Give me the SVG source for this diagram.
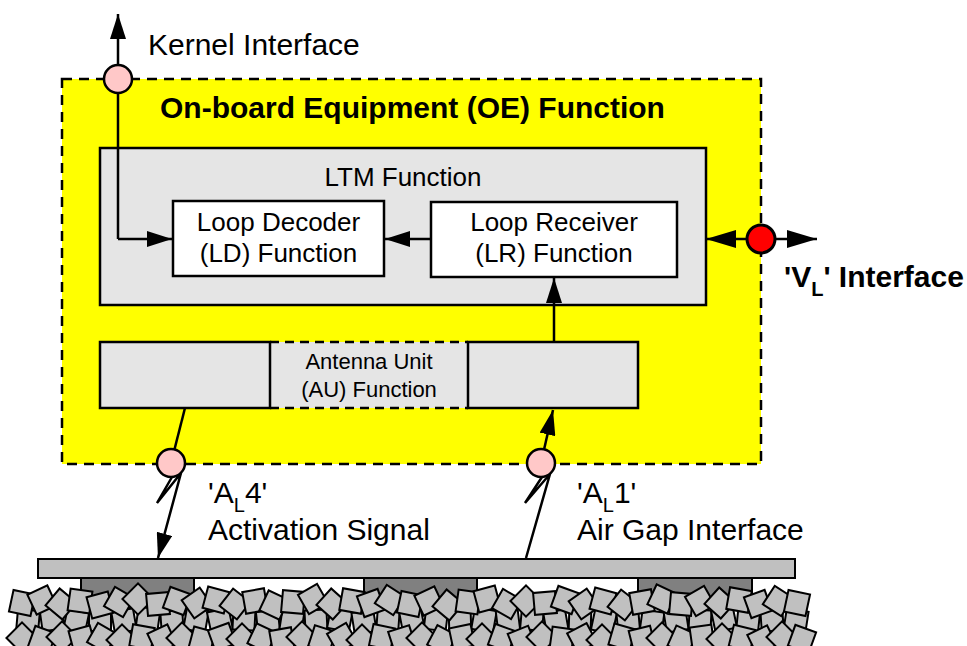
<svg xmlns="http://www.w3.org/2000/svg" xmlns:xlink="http://www.w3.org/1999/xlink" width="967" height="646" viewBox="0 0 967 646">
<style>
text{font-family:"Liberation Sans",Arial,sans-serif;fill:#000}
.lbl{font-size:30px}
.in{font-size:26px;text-anchor:middle}
.au{font-size:22px;text-anchor:middle}
.bold{font-weight:bold}
.box{stroke:#000;stroke-width:2.5}
.con{fill:none;stroke:#000;stroke-width:2.5}
.pink{fill:#ffc8c8;stroke:#000;stroke-width:2.5}
.st{fill:#c0c0c0;stroke:#000;stroke-width:2}
</style>
<defs>
<marker id="ah" markerWidth="25" markerHeight="16" refX="25" refY="8" orient="auto" markerUnits="userSpaceOnUse"><path d="M0,0 L25,8 L0,16 z" fill="#000"/></marker>
<marker id="ahL" markerWidth="30" markerHeight="18" refX="30" refY="9" orient="auto" markerUnits="userSpaceOnUse"><path d="M0,0 L30,9 L0,18 z" fill="#000"/></marker>
<rect id="s" x="-11" y="-11" width="22" height="22" class="st"/>
</defs>

<g id="oe">
<rect x="62" y="79" width="699" height="385" fill="#ffff00" stroke="#000" stroke-width="2.5" stroke-dasharray="10,7"/>
<text class="lbl bold" x="160" y="118">On-board Equipment (OE) Function</text>
</g>

<g id="ltm">
<rect class="box" x="100" y="148" width="606" height="157" fill="#e5e5e5"/>
<text class="in" x="403" y="186">LTM Function</text>
</g>

<g id="ld">
<rect class="box" x="173" y="201" width="211" height="75" fill="#fff"/>
<text class="in" x="278.5" y="231">Loop Decoder</text>
<text class="in" x="278.5" y="262">(LD) Function</text>
</g>

<g id="lr">
<rect class="box" x="431" y="202" width="246" height="75" fill="#fff"/>
<text class="in" x="554" y="231">Loop Receiver</text>
<text class="in" x="554" y="262">(LR) Function</text>
</g>

<g id="au">
<rect x="270" y="342" width="198" height="66" fill="#e5e5e5"/>
<path d="M270,342 H468 M270,408 H468" stroke="#000" stroke-width="2.5" stroke-dasharray="9,6" fill="none"/>
<rect class="box" x="100" y="342" width="170" height="66" fill="#e5e5e5"/>
<rect class="box" x="468" y="342" width="170" height="66" fill="#e5e5e5"/>
<text class="au" x="369" y="369">Antenna Unit</text>
<text class="au" x="369" y="397">(AU) Function</text>
</g>

<g id="track">
<rect x="81" y="578" width="113" height="30" fill="#808080" stroke="#000" stroke-width="2"/>
<rect x="364" y="578" width="113" height="30" fill="#808080" stroke="#000" stroke-width="2"/>
<rect x="638" y="578" width="114" height="30" fill="#808080" stroke="#000" stroke-width="2"/>
<rect x="38" y="559" width="757" height="19" fill="#c0c0c0" stroke="#000" stroke-width="2"/>
</g>

<g id="ballast">
<use xlink:href="#s" transform="translate(28,621) rotate(5)"/>
<use xlink:href="#s" transform="translate(52,619) rotate(-8)"/>
<use xlink:href="#s" transform="translate(76,622) rotate(12)"/>
<use xlink:href="#s" transform="translate(100,620) rotate(0)"/>
<use xlink:href="#s" transform="translate(124,621) rotate(-10)"/>
<use xlink:href="#s" transform="translate(148,619) rotate(8)"/>
<use xlink:href="#s" transform="translate(172,622) rotate(-4)"/>
<use xlink:href="#s" transform="translate(196,620) rotate(10)"/>
<use xlink:href="#s" transform="translate(220,621) rotate(-12)"/>
<use xlink:href="#s" transform="translate(244,619) rotate(3)"/>
<use xlink:href="#s" transform="translate(268,622) rotate(-6)"/>
<use xlink:href="#s" transform="translate(292,620) rotate(9)"/>
<use xlink:href="#s" transform="translate(316,621) rotate(-3)"/>
<use xlink:href="#s" transform="translate(340,619) rotate(11)"/>
<use xlink:href="#s" transform="translate(364,622) rotate(-9)"/>
<use xlink:href="#s" transform="translate(388,620) rotate(4)"/>
<use xlink:href="#s" transform="translate(412,621) rotate(-11)"/>
<use xlink:href="#s" transform="translate(436,619) rotate(7)"/>
<use xlink:href="#s" transform="translate(460,622) rotate(-2)"/>
<use xlink:href="#s" transform="translate(484,620) rotate(10)"/>
<use xlink:href="#s" transform="translate(508,621) rotate(-7)"/>
<use xlink:href="#s" transform="translate(532,619) rotate(5)"/>
<use xlink:href="#s" transform="translate(556,622) rotate(-10)"/>
<use xlink:href="#s" transform="translate(580,620) rotate(2)"/>
<use xlink:href="#s" transform="translate(604,621) rotate(12)"/>
<use xlink:href="#s" transform="translate(628,619) rotate(-5)"/>
<use xlink:href="#s" transform="translate(652,622) rotate(8)"/>
<use xlink:href="#s" transform="translate(676,620) rotate(-9)"/>
<use xlink:href="#s" transform="translate(700,621) rotate(3)"/>
<use xlink:href="#s" transform="translate(724,619) rotate(-12)"/>
<use xlink:href="#s" transform="translate(748,622) rotate(6)"/>
<use xlink:href="#s" transform="translate(772,620) rotate(-4)"/>
<use xlink:href="#s" transform="translate(796,621) rotate(9)"/>

<use xlink:href="#s" transform="translate(22,638) rotate(45)"/>
<use xlink:href="#s" transform="translate(42,640) rotate(20)"/>
<use xlink:href="#s" transform="translate(62,637) rotate(45)"/>
<use xlink:href="#s" transform="translate(82,639) rotate(-15)"/>
<use xlink:href="#s" transform="translate(102,638) rotate(30)"/>
<use xlink:href="#s" transform="translate(122,640) rotate(45)"/>
<use xlink:href="#s" transform="translate(142,637) rotate(10)"/>
<use xlink:href="#s" transform="translate(162,639) rotate(-25)"/>
<use xlink:href="#s" transform="translate(182,638) rotate(45)"/>
<use xlink:href="#s" transform="translate(202,640) rotate(15)"/>
<use xlink:href="#s" transform="translate(222,637) rotate(-20)"/>
<use xlink:href="#s" transform="translate(242,639) rotate(45)"/>
<use xlink:href="#s" transform="translate(262,638) rotate(25)"/>
<use xlink:href="#s" transform="translate(282,640) rotate(-10)"/>
<use xlink:href="#s" transform="translate(302,637) rotate(45)"/>
<use xlink:href="#s" transform="translate(322,639) rotate(18)"/>
<use xlink:href="#s" transform="translate(342,638) rotate(-30)"/>
<use xlink:href="#s" transform="translate(362,640) rotate(45)"/>
<use xlink:href="#s" transform="translate(382,637) rotate(12)"/>
<use xlink:href="#s" transform="translate(402,639) rotate(-18)"/>
<use xlink:href="#s" transform="translate(422,638) rotate(45)"/>
<use xlink:href="#s" transform="translate(442,640) rotate(28)"/>
<use xlink:href="#s" transform="translate(462,637) rotate(-12)"/>
<use xlink:href="#s" transform="translate(482,639) rotate(45)"/>
<use xlink:href="#s" transform="translate(502,638) rotate(20)"/>
<use xlink:href="#s" transform="translate(522,640) rotate(-22)"/>
<use xlink:href="#s" transform="translate(542,637) rotate(45)"/>
<use xlink:href="#s" transform="translate(562,639) rotate(8)"/>
<use xlink:href="#s" transform="translate(582,638) rotate(-28)"/>
<use xlink:href="#s" transform="translate(602,640) rotate(45)"/>
<use xlink:href="#s" transform="translate(622,637) rotate(16)"/>
<use xlink:href="#s" transform="translate(642,639) rotate(-14)"/>
<use xlink:href="#s" transform="translate(662,638) rotate(45)"/>
<use xlink:href="#s" transform="translate(682,640) rotate(24)"/>
<use xlink:href="#s" transform="translate(702,637) rotate(-8)"/>
<use xlink:href="#s" transform="translate(722,639) rotate(45)"/>
<use xlink:href="#s" transform="translate(742,638) rotate(14)"/>
<use xlink:href="#s" transform="translate(762,640) rotate(-26)"/>
<use xlink:href="#s" transform="translate(782,637) rotate(45)"/>
<use xlink:href="#s" transform="translate(802,639) rotate(20)"/>

<use xlink:href="#s" transform="translate(22,603) rotate(12)"/>
<use xlink:href="#s" transform="translate(42,600) rotate(-25)"/>
<use xlink:href="#s" transform="translate(61,604) rotate(40)"/>
<use xlink:href="#s" transform="translate(80,601) rotate(8)"/>
<use xlink:href="#s" transform="translate(100,605) rotate(-15)"/>
<use xlink:href="#s" transform="translate(119,602) rotate(30)"/>
<use xlink:href="#s" transform="translate(138,599) rotate(45)"/>
<use xlink:href="#s" transform="translate(158,604) rotate(-5)"/>
<use xlink:href="#s" transform="translate(177,601) rotate(20)"/>
<use xlink:href="#s" transform="translate(197,603) rotate(-35)"/>
<use xlink:href="#s" transform="translate(216,600) rotate(15)"/>
<use xlink:href="#s" transform="translate(235,604) rotate(38)"/>
<use xlink:href="#s" transform="translate(255,601) rotate(-10)"/>
<use xlink:href="#s" transform="translate(274,605) rotate(25)"/>
<use xlink:href="#s" transform="translate(293,602) rotate(5)"/>
<use xlink:href="#s" transform="translate(313,599) rotate(-30)"/>
<use xlink:href="#s" transform="translate(332,604) rotate(42)"/>
<use xlink:href="#s" transform="translate(352,601) rotate(10)"/>
<use xlink:href="#s" transform="translate(371,603) rotate(-20)"/>
<use xlink:href="#s" transform="translate(390,600) rotate(33)"/>
<use xlink:href="#s" transform="translate(410,604) rotate(12)"/>
<use xlink:href="#s" transform="translate(429,601) rotate(-25)"/>
<use xlink:href="#s" transform="translate(448,605) rotate(40)"/>
<use xlink:href="#s" transform="translate(468,602) rotate(8)"/>
<use xlink:href="#s" transform="translate(487,599) rotate(-15)"/>
<use xlink:href="#s" transform="translate(507,604) rotate(30)"/>
<use xlink:href="#s" transform="translate(526,601) rotate(45)"/>
<use xlink:href="#s" transform="translate(545,603) rotate(-5)"/>
<use xlink:href="#s" transform="translate(565,600) rotate(20)"/>
<use xlink:href="#s" transform="translate(584,604) rotate(-35)"/>
<use xlink:href="#s" transform="translate(603,601) rotate(15)"/>
<use xlink:href="#s" transform="translate(623,605) rotate(38)"/>
<use xlink:href="#s" transform="translate(642,602) rotate(-10)"/>
<use xlink:href="#s" transform="translate(662,599) rotate(25)"/>
<use xlink:href="#s" transform="translate(681,604) rotate(5)"/>
<use xlink:href="#s" transform="translate(700,601) rotate(-30)"/>
<use xlink:href="#s" transform="translate(720,603) rotate(42)"/>
<use xlink:href="#s" transform="translate(739,600) rotate(10)"/>
<use xlink:href="#s" transform="translate(758,604) rotate(-20)"/>
<use xlink:href="#s" transform="translate(778,601) rotate(33)"/>
<use xlink:href="#s" transform="translate(797,603) rotate(12)"/>
</g>

<g id="connectors">
<path class="con" d="M118,239 V14" marker-end="url(#ah)"/>
<path class="con" d="M118,239 H172" marker-end="url(#ah)"/>
<path class="con" d="M431,239 H385" marker-end="url(#ah)"/>
<path class="con" d="M554,342 V278" marker-end="url(#ah)"/>
<path class="con" d="M761,239 H706" marker-end="url(#ahL)"/>
<path class="con" d="M761,239 H817" marker-end="url(#ahL)"/>
<path class="con" d="M185,408 L171,463"/>
<path class="con" d="M172,477 L157,503 L181,473 L158,558" marker-end="url(#ah)"/>
<path class="con" d="M541,463 L553,410" marker-end="url(#ah)"/>
<path class="con" d="M542,477 L525,503 L550,474 L526,558"/>
</g>

<g id="kernel-if">
<circle class="pink" cx="118" cy="79" r="14"/>
<text class="lbl" x="148" y="55">Kernel Interface</text>
</g>

<g id="vl-if">
<circle cx="761" cy="239" r="14" fill="#ff0000" stroke="#000" stroke-width="3"/>
<text class="lbl bold" x="784" y="287">'V<tspan font-size="20" dy="9">L</tspan><tspan dy="-9">' Interface</tspan></text>
</g>

<g id="al4-if">
<circle class="pink" cx="171" cy="463" r="14"/>
<text class="lbl" x="208" y="503">'A<tspan font-size="20" dy="9">L</tspan><tspan dy="-9">4'</tspan></text>
<text class="lbl" x="208" y="540">Activation Signal</text>
</g>

<g id="al1-if">
<circle class="pink" cx="541" cy="463" r="14"/>
<text class="lbl" x="577" y="503">'A<tspan font-size="20" dy="9">L</tspan><tspan dy="-9">1'</tspan></text>
<text class="lbl" x="577" y="540">Air Gap Interface</text>
</g>
</svg>
